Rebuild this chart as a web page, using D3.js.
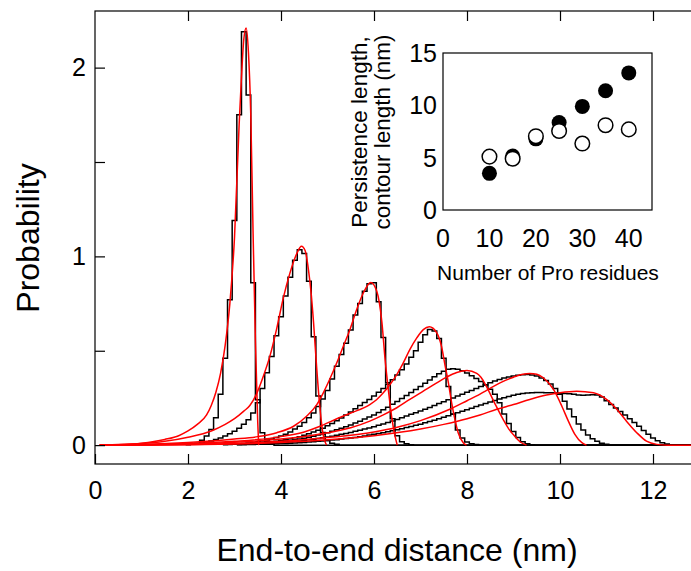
<!DOCTYPE html>
<html lang="en">
<head>
<meta charset="utf-8">
<title>End-to-end distance distributions</title>
<script src="https://d3js.org/d3.v7.min.js"></script>
<style>
  body { margin: 0; background: #fff; }
  svg text { font-family: "Liberation Sans", Arial, sans-serif; fill: #000; }
</style>
</head>
<body>
<svg width="691" height="571"></svg>
<script>
// histogram bins (width 0.1 nm), first left edge + values
const binWidth = 0.1;
const histStarts = [2.05, 1.95, 2.75, 3.05, 3.05, 3.05, 3.05];
const hist10 = [0.005,0.01,0.026,0.048,0.083,0.145,0.27,0.46,0.77,1.19,
  1.75,2.19,1.855,0.86,0.24,0.065,0.02,0.005];
const hist15 = [0.002,
  0.004,0.007,0.011,0.016,0.022,0.03,0.038,0.048,0.06,0.074,
  0.09,0.11,0.135,0.17,0.225,0.30,0.383,0.47,0.58,0.68,
  0.79,0.89,0.98,1.035,1.015,0.868,0.574,0.26,0.067,0.025,
  0.01,0.004];
const hist20 = [0.002,0.003,0.004,
  0.006,0.008,0.011,0.014,0.018,0.022,0.027,0.033,0.04,0.048,
  0.058,0.07,0.085,0.1,0.12,0.145,0.17,0.205,0.245,0.29,
  0.35,0.418,0.48,0.54,0.61,0.69,0.75,0.815,0.855,0.86,
  0.76,0.57,0.33,0.14,0.05,0.018,0.007,0.002];
const hist25 = [0.005,0.006,0.007,0.009,0.011,0.013,0.015,0.018,0.021,0.025,
  0.029,0.034,0.039,0.045,0.052,0.06,0.069,0.079,0.09,0.102,
  0.115,0.129,0.144,0.16,0.176,0.193,0.21,0.226,0.242,0.26,
  0.28,0.3,0.322,0.346,0.372,0.4,0.43,0.465,0.5,0.545,
  0.585,0.612,0.605,0.565,0.46,0.31,0.165,0.08,0.038,0.016,
  0.007,0.003];
const hist30 = [0.004,0.005,0.006,0.007,0.008,0.01,0.012,0.014,0.016,0.019,
  0.022,0.025,0.029,0.033,0.037,0.042,0.047,0.053,0.059,0.066,
  0.073,0.081,0.089,0.098,0.107,0.117,0.127,0.138,0.149,
  0.16,0.173,0.187,0.201,0.216,0.231,0.247,0.263,0.279,0.295,
  0.311,0.328,0.345,0.362,0.378,0.392,0.402,0.405,0.402,0.394,
  0.382,0.368,0.353,0.337,0.318,0.296,0.27,0.225,0.165,0.115,
  0.072,0.04,0.018,0.007,0.002];
const hist35 = [0.003,0.004,0.004,0.005,0.006,0.007,0.008,0.009,0.011,0.013,
  0.015,0.017,0.019,0.022,0.025,0.028,0.031,0.035,0.039,0.043,
  0.047,0.052,0.057,0.062,0.067,0.073,0.079,0.085,0.091,0.098,
  0.105,0.112,0.12,0.128,0.136,0.145,0.154,0.163,0.172,0.181,
  0.19,0.2,0.21,0.22,0.23,0.24,0.25,0.26,0.27,0.28,
  0.29,0.3,0.31,0.32,0.33,0.34,0.348,0.355,0.361,0.366,
  0.37,0.373,0.374,0.372,0.366,0.356,0.342,0.324,0.3,0.27,
  0.233,0.192,0.15,0.112,0.08,0.054,0.034,0.02,0.01,0.004];
const hist40 = [0.002,0.002,0.003,0.003,0.004,0.004,0.005,0.006,0.007,0.008,
  0.009,0.01,0.011,0.013,0.014,0.016,0.018,0.02,0.022,0.024,
  0.027,0.029,0.032,0.035,0.038,0.041,0.045,0.049,0.053,0.057,
  0.061,0.066,0.071,0.076,0.081,0.087,0.093,0.099,0.105,0.111,
  0.118,0.125,0.132,0.14,0.148,0.156,0.164,0.172,0.18,0.188,
  0.196,0.204,0.212,0.22,0.228,0.236,0.244,0.251,0.258,0.264,
  0.269,0.273,0.276,0.278,0.279,0.279,0.278,0.277,0.276,0.275,
  0.274,0.272,0.269,0.266,0.264,0.265,0.267,0.266,0.255,0.235,
  0.215,0.197,0.178,0.16,0.14,0.12,0.1,0.078,0.057,0.038,
  0.023,0.013,0.006,0.002];
const histograms = [hist10, hist15, hist20, hist25, hist30, hist35, hist40];

// fitted curves, [distance nm, probability]
const fit10 = [[0.1,0],[0.5,0.002],[1.0,0.01],[1.5,0.03],[1.8,0.05],[2.0,0.075],[2.2,0.11],
  [2.4,0.16],[2.5,0.21],[2.6,0.28],[2.7,0.38],[2.8,0.53],[2.9,0.75],[3.0,1.1],[3.1,1.7],
  [3.15,1.95],[3.2,2.15],[3.25,2.21],[3.3,2.08],[3.35,1.75],[3.4,1.12],[3.45,0.55],[3.5,0.12],[3.52,0]];
const fit15 = [[0.1,0],[0.5,0.003],[1.0,0.008],[1.5,0.02],[2.0,0.042],[2.5,0.075],[2.8,0.11],
  [3.0,0.14],[3.2,0.18],[3.33,0.21],[3.48,0.275],[3.62,0.365],[3.76,0.47],[3.91,0.62],
  [4.05,0.78],[4.19,0.91],[4.34,1.015],[4.44,1.053],[4.52,1.03],[4.59,0.93],[4.65,0.8],
  [4.7,0.65],[4.77,0.4],[4.84,0.19],[4.91,0.05],[4.98,0]];
const fit20 = [[0.1,0],[1.0,0.004],[2.0,0.014],[2.5,0.022],[3.0,0.032],[3.5,0.045],[3.91,0.066],
  [4.27,0.1],[4.55,0.153],[4.77,0.215],[4.91,0.277],[5.05,0.35],[5.2,0.436],[5.34,0.524],
  [5.48,0.61],[5.63,0.72],[5.77,0.806],[5.93,0.862],[6.06,0.815],[6.17,0.65],[6.24,0.45],
  [6.31,0.29],[6.38,0.15],[6.45,0.05],[6.5,0]];
const fit25 = [[0.1,0],[1.0,0.002],[2.0,0.008],[3.0,0.02],[4.0,0.045],[4.5,0.07],[4.84,0.1],
  [5.2,0.14],[5.5,0.17],[5.91,0.215],[6.06,0.242],[6.2,0.277],[6.34,0.32],[6.49,0.374],
  [6.63,0.436],[6.77,0.506],[6.92,0.568],[7.06,0.612],[7.19,0.627],[7.35,0.595],[7.45,0.525],
  [7.53,0.42],[7.6,0.33],[7.67,0.224],[7.74,0.136],[7.81,0.066],[7.92,0.013],[7.99,0]];
const fit30 = [[0.1,0],[1.0,0.002],[2.0,0.006],[3.0,0.015],[4.0,0.032],[4.5,0.046],[5.0,0.065],
  [5.5,0.092],[5.91,0.127],[6.2,0.16],[6.49,0.198],[6.77,0.242],[7.06,0.286],[7.35,0.33],
  [7.56,0.36],[7.78,0.385],[8.0,0.395],[8.21,0.38],[8.3,0.36],[8.42,0.31],[8.6,0.22],
  [8.78,0.135],[8.9,0.085],[9.0,0.055],[9.14,0.018],[9.28,0]];
const fit35 = [[0.1,0],[1.0,0.001],[2.0,0.003],[3.0,0.008],[4.0,0.02],[5.0,0.04],[6.0,0.07],
  [6.5,0.095],[7.0,0.13],[7.63,0.19],[8.0,0.235],[8.28,0.27],[8.42,0.29],[8.71,0.33],
  [9.0,0.36],[9.2,0.376],[9.35,0.38],[9.5,0.376],[9.64,0.357],[9.86,0.295],[10.04,0.206],
  [10.18,0.127],[10.32,0.057],[10.47,0.013],[10.57,0]];
const fit40 = [[0.1,0],[1.0,0.0005],[2.0,0.002],[3.0,0.006],[4.0,0.014],[5.0,0.028],[6.0,0.05],
  [7.0,0.085],[7.5,0.11],[8.0,0.14],[8.28,0.16],[8.64,0.19],[9.0,0.215],[9.35,0.242],
  [9.71,0.265],[10.0,0.278],[10.36,0.286],[10.72,0.277],[11.0,0.242],[11.22,0.19],
  [11.43,0.127],[11.65,0.066],[11.86,0.021],[12.08,0.004],[12.3,0],[13.5,0]];
const fits = [fit10, fit15, fit20, fit25, fit30, fit35, fit40];

// inset: number of Pro residues vs lengths
const proResidues = [10, 15, 20, 25, 30, 35, 40];
const contourLength = [3.5, 5.15, 6.8, 8.35, 9.9, 11.4, 13.1];
const persistenceLength = [5.1, 4.9, 7.05, 7.55, 6.35, 8.1, 7.7];

const xTicks = [0, 2, 4, 6, 8, 10, 12];
const yTicks = [0, 0.5, 1, 1.5, 2];
const insetXTicks = [0, 10, 20, 30, 40];
const insetYTicks = [0, 5, 10, 15];

const svg = d3.select("svg");
const font = '"Liberation Sans", Arial, sans-serif';

const x = d3.scaleLinear().domain([0, 13.5]).range([95, 95 + 13.5 * 46.5]);
const y = d3.scaleLinear().domain([-0.1, 2.3]).range([464, 11]);

// histograms as step lines
const stepLine = d3.line().x(d => x(d[0])).y(d => y(d[1])).curve(d3.curveStepAfter);
histograms.forEach((vals, k) => {
  const x0 = histStarts[k];
  const pts = vals.map((v, i) => [x0 + i * binWidth, v]);
  pts.push([x0 + vals.length * binWidth, 0]);
  pts.push([13.5, 0]);
  svg.append("path")
    .attr("d", stepLine(pts))
    .attr("fill", "none")
    .attr("stroke", "#000")
    .attr("stroke-width", 1.5);
});

// fitted curves
const fitLine = d3.line().x(d => x(d[0])).y(d => y(d[1])).curve(d3.curveMonotoneX);
fits.forEach(f => {
  svg.append("path")
    .attr("d", fitLine(f))
    .attr("fill", "none")
    .attr("stroke", "#ff0000")
    .attr("stroke-width", 1.5);
});

// frame
svg.append("rect")
  .attr("x", x(0)).attr("y", y(2.3))
  .attr("width", x(13.5) - x(0)).attr("height", y(-0.1) - y(2.3))
  .attr("fill", "none").attr("stroke", "#000").attr("stroke-width", 1.2);

function styleAxis(g, size) {
  g.select(".domain").remove();
  g.selectAll(".tick line").attr("stroke", "#000").attr("stroke-width", 1.2);
  g.selectAll("text").attr("font-size", size).attr("font-family", font).attr("fill", "#000");
}

svg.append("g")
  .attr("transform", `translate(0,${y(-0.1)})`)
  .call(d3.axisBottom(x).tickValues(xTicks).tickSizeInner(-10).tickSizeOuter(0).tickPadding(17).tickFormat(d3.format("d")))
  .call(g => styleAxis(g, 25));

svg.append("g")
  .attr("transform", `translate(0,${y(2.3)})`)
  .call(d3.axisTop(x).tickValues(xTicks.slice(1)).tickSizeInner(-10).tickSizeOuter(0).tickFormat(""))
  .call(g => styleAxis(g, 25));

svg.append("g")
  .attr("transform", `translate(${x(0)},0)`)
  .call(d3.axisLeft(y).tickValues(yTicks).tickSizeInner(-10).tickSizeOuter(0).tickPadding(9)
    .tickFormat(d => Number.isInteger(d) ? d : ""))
  .call(g => styleAxis(g, 25));

svg.append("text")
  .attr("x", 397).attr("y", 561)
  .attr("text-anchor", "middle")
  .attr("font-size", 32)
  .text("End-to-end distance (nm)");

svg.append("text")
  .attr("transform", `translate(39,238) rotate(-90)`)
  .attr("text-anchor", "middle")
  .attr("font-size", 32)
  .text("Probability");

// inset
const ix = d3.scaleLinear().domain([0, 45]).range([443, 652]);
const iy = d3.scaleLinear().domain([0, 15]).range([210, 53]);
const inset = svg.append("g");

inset.append("rect")
  .attr("x", ix(0)).attr("y", iy(15))
  .attr("width", ix(45) - ix(0)).attr("height", iy(0) - iy(15))
  .attr("fill", "#fff").attr("stroke", "#000").attr("stroke-width", 1.2);

inset.selectAll(".ixl").data(insetXTicks).join("text")
  .attr("x", d => ix(d)).attr("y", 247)
  .attr("text-anchor", "middle").attr("font-size", 25)
  .text(d => d);

inset.selectAll(".iyl").data(insetYTicks).join("text")
  .attr("x", 437).attr("y", d => iy(d))
  .attr("dy", "0.36em")
  .attr("text-anchor", "end").attr("font-size", 25)
  .text(d => d);

inset.selectAll(".filled").data(proResidues).join("circle")
  .attr("cx", d => ix(d)).attr("cy", (d, i) => iy(contourLength[i]))
  .attr("r", 7.5).attr("fill", "#000");

inset.selectAll(".open").data(proResidues).join("circle")
  .attr("cx", d => ix(d)).attr("cy", (d, i) => iy(persistenceLength[i]))
  .attr("r", 7.3).attr("fill", "#fff").attr("stroke", "#000").attr("stroke-width", 1.5);

inset.append("text")
  .attr("x", 548).attr("y", 280)
  .attr("text-anchor", "middle").attr("font-size", 21)
  .text("Number of Pro residues");

inset.append("text")
  .attr("transform", `translate(367,132) rotate(-90)`)
  .attr("text-anchor", "middle").attr("font-size", 22.5)
  .text("Persistence length,");

inset.append("text")
  .attr("transform", `translate(390,132) rotate(-90)`)
  .attr("text-anchor", "middle").attr("font-size", 22.5)
  .text("contour length (nm)");
</script>
</body>
</html>
